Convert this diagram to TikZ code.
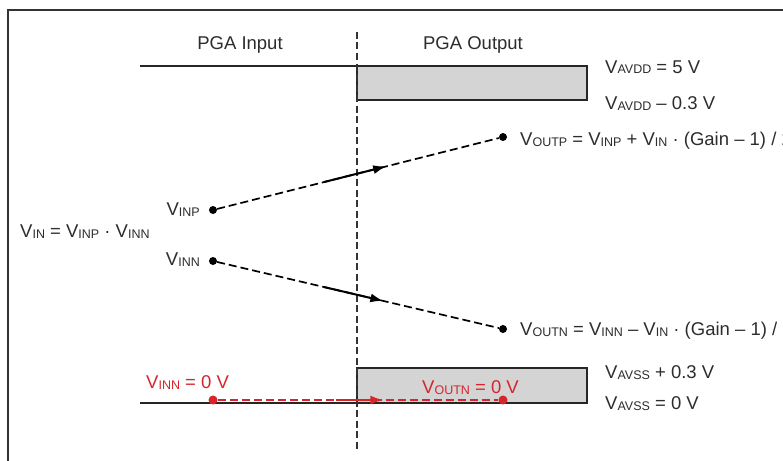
\documentclass[tikz,border=0pt]{standalone}
\usepackage{fontspec}
\setmainfont{Liberation Sans}
\usetikzlibrary{arrows.meta, positioning}

\definecolor{railgray}{RGB}{212,212,212}
\definecolor{zerored}{RGB}{214,38,44}
\definecolor{txtgray}{RGB}{45,45,45}

% V with a small subscript
\newcommand{\vsub}[1]{V\raisebox{-1pt}{\fontsize{12.5}{12.5}\selectfont #1}}

\tikzset{
  lbl/.style={font=\fontsize{18.5}{22}\selectfont, text=txtgray, inner sep=0pt},
  rail/.style={line width=2.4pt, draw=black!85},
  divider/.style={line width=1.3pt, draw=black!80, dash pattern=on 7pt off 3.5pt},
  dot/.style={circle, fill=black, inner sep=0pt, minimum size=8pt},
  sigline/.style={line width=1.7pt, dash pattern=on 8pt off 4pt},
  midarrow/.style={line width=2pt, -{Latex[length=13pt,width=9pt]}},
}

\begin{document}
\begin{tikzpicture}[x=1pt, y=-1pt]
        \useasboundingbox (0,0) rectangle (783,460);
        \clip (0,0) rectangle (783,460);
        \fill[white] (0,0) rectangle (783,460);

        % frame
        \draw[line width=1.8pt, black!80] (8,480) -- (8,10) -- (800,10);

        % headings
        \node[lbl, anchor=base] (inhead) at (240,49) {PGA Input};
        \node[lbl, anchor=base] (outhead) at (473,49) {PGA Output};

        % --- supply rails ---
        \draw[rail] (140,66) -- (357,66);
        \draw[rail, fill=railgray] (357,66) rectangle (587,100);
        \draw[rail] (140,403) -- (357,403);
        \draw[rail, fill=railgray] (357,368) rectangle (587,403);

        \draw[divider] (357,32) -- (357,452);

        % rail labels
        \node[lbl, anchor=base west] (avddtop) at (605,73) {\vsub{AVDD} = 5 V};
        \node[lbl, anchor=base west] (avddlow) at (605,109) {\vsub{AVDD} – 0.3 V};
        \node[lbl, anchor=base west] (avsshigh) at (605,378) {\vsub{AVSS} + 0.3 V};
        \node[lbl, anchor=base west] (avssbot) at (605,409) {\vsub{AVSS} = 0 V};

        % --- input / output points ---
        \node[dot] (inp) at (213,210) {};
        \node[dot] (inn) at (213,261) {};
        \node[dot] (outp) at (503,137) {};
        \node[dot] (outn) at (503,329) {};

        \node[lbl, anchor=base east] (inplbl) at (200,215) {\vsub{INP}};
        \node[lbl, anchor=base east] (innlbl) at (200,265) {\vsub{INN}};
        \node[lbl, anchor=base west] (vinlbl) at (20,237) {\vsub{IN} = \vsub{INP} · \vsub{INN}};
        \node[lbl, anchor=base west] (outplbl) at (520,145) {\vsub{OUTP} = \vsub{INP} + \vsub{IN} · (Gain – 1) / 2};
        \node[lbl, anchor=base west] (outnlbl) at (520,335) {\vsub{OUTN} = \vsub{INN} – \vsub{IN} · (Gain – 1) / 2};

        \draw[sigline] (inp) -- (outp) coordinate[pos=0.38] (pa) coordinate[pos=0.6] (pb);
        \draw[midarrow] (pa) -- (pb);
        \draw[sigline] (inn) -- (outn) coordinate[pos=0.38] (na) coordinate[pos=0.59] (nb);
        \draw[midarrow] (na) -- (nb);

        % --- zero input case (red) ---
        \node[dot, fill=zerored, minimum size=9pt] (zin) at (213,400) {};
        \node[dot, fill=zerored, minimum size=9pt] (zout) at (503,400) {};
        \node[lbl, text=zerored, anchor=base west] (zinlbl) at (146,388) {\vsub{INN} = 0 V};
        \node[lbl, text=zerored, anchor=base west] (zoutlbl) at (422,393) {\vsub{OUTN} = 0 V};

        \draw[sigline, zerored] (zin) -- (zout) coordinate[pos=0.42] (za) coordinate[pos=0.59] (zb);
        \draw[midarrow, zerored] (za) -- (zb);

    \end{tikzpicture}
\end{document}
